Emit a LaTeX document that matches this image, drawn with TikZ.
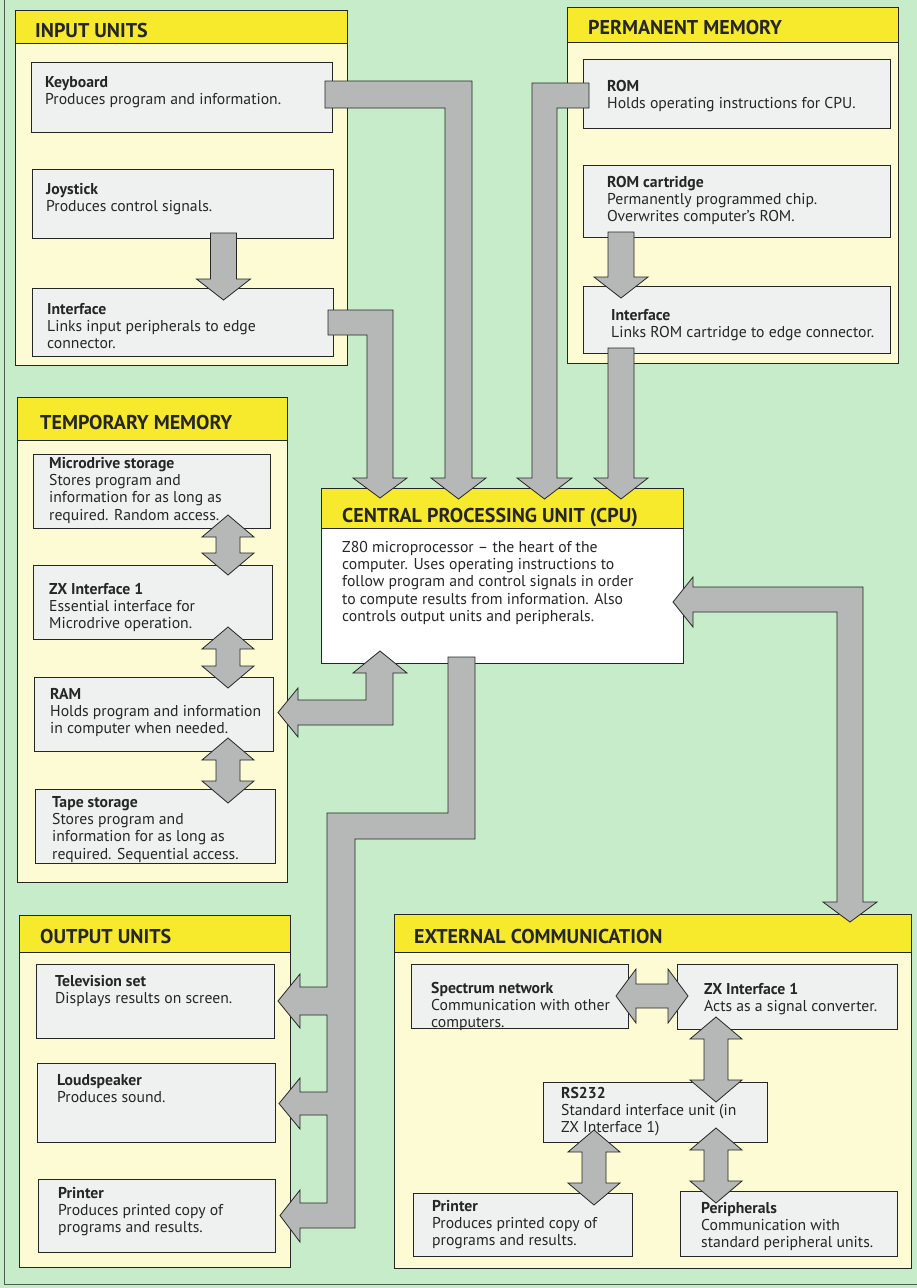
\documentclass[tikz,border=0pt]{standalone}
\usepackage{fontspec}
\setmainfont{PT Sans}
\newfontfamily\headfont{PT Sans}
\definecolor{bg}{HTML}{C6ECCA}
\definecolor{panelc}{HTML}{FDFBD4}
\definecolor{headc}{HTML}{F7E92C}
\definecolor{boxc}{HTML}{EEF1EF}
\definecolor{arr}{HTML}{B6B8B8}
\definecolor{ink}{HTML}{262626}
\definecolor{frame}{HTML}{4F5F50}
\tikzset{
  panelbox/.style={draw=ink, fill=panelc, line width=0.9pt, inner sep=0pt, outer sep=0pt},
  headbox/.style={draw=ink, fill=headc, line width=0.9pt, inner sep=0pt, outer sep=0pt},
  itembox/.style={draw=ink, fill=boxc, line width=0.9pt, inner sep=0pt, outer sep=0pt},
  cpubody/.style={draw=ink, fill=white, line width=0.9pt, inner sep=0pt, outer sep=0pt},
  txt/.style={align=left, inner sep=0pt, text=ink, font=\fontsize{15.7}{17.3}\selectfont},
  ttl/.style={inner sep=0pt, text=ink, font=\headfont\bfseries\fontsize{20}{20}\selectfont},
  blockarrow/.style={fill=arr, draw=ink, line width=0.8pt, line join=miter}
}
\newcommand\boxnode[6]{\node[#1, anchor=north west, minimum width={#5-#3}, minimum height={#6-#4}] (#2) at (#3,#4) {};}
\newcommand\btext[5]{\node[txt, anchor=north west] (#1) at (#2,{#3-12}) {\rule{0pt}{12pt}\textbf{#4}\\#5};}
\newcommand\darrow[3]{\draw[blockarrow] ({#1-13},#2) -- ({#1+13},#2) -- ({#1+13},{#3-21}) -- ({#1+27},{#3-21}) -- (#1,#3) -- ({#1-27},{#3-21}) -- ({#1-13},{#3-21}) -- cycle;}
\newcommand\vdarrow[3]{\draw[blockarrow] (#1,#2) -- ({#1+26},{#2+22}) -- ({#1+12},{#2+22}) -- ({#1+12},{#3-22}) -- ({#1+26},{#3-22}) -- (#1,#3) -- ({#1-26},{#3-22}) -- ({#1-12},{#3-22}) -- ({#1-12},{#2+22}) -- ({#1-26},{#2+22}) -- cycle;}
\newcommand\hdarrow[3]{\draw[blockarrow] (#1,#3) -- ({#1+20},{#3-27}) -- ({#1+20},{#3-12}) -- ({#2-20},{#3-12}) -- ({#2-20},{#3-27}) -- (#2,#3) -- ({#2-20},{#3+27}) -- ({#2-20},{#3+12}) -- ({#1+20},{#3+12}) -- ({#1+20},{#3+27}) -- cycle;}
\begin{document}
\begin{tikzpicture}[x=1pt,y=-1pt]
\useasboundingbox (0,0) rectangle (917,1288);
\fill[bg] (0,0) rectangle (917,1288);
\draw[frame, line width=1pt] (4.5,0) -- (4.5,1284.5) -- (917,1284.5);

% ---------- panels ----------
\boxnode{panelbox}{inp}{15}{10}{347}{365}
\boxnode{headbox}{inph}{15}{10}{347}{43}
\node[ttl, anchor=base west] (inpT) at (35,37) {INPUT UNITS};

\boxnode{panelbox}{perm}{567}{7}{898}{363}
\boxnode{headbox}{permh}{567}{7}{898}{42}
\node[ttl, anchor=base west] (permT) at (588,34) {PERMANENT MEMORY};

\boxnode{panelbox}{temp}{17}{397}{287}{882}
\boxnode{headbox}{temph}{17}{397}{287}{440}
\node[ttl, anchor=base west] (tempT) at (40,429) {TEMPORARY MEMORY};

\boxnode{cpubody}{cpu}{321}{488}{683}{663}
\boxnode{headbox}{cpuh}{321}{488}{683}{528}
\node[ttl, anchor=base west] (cpuT) at (342,522) {CENTRAL PROCESSING UNIT (CPU)};

\boxnode{panelbox}{outp}{19}{915}{290}{1267}
\boxnode{headbox}{outph}{19}{915}{290}{952}
\node[ttl, anchor=base west] (outT) at (40,943) {OUTPUT UNITS};

\boxnode{panelbox}{ext}{394}{914}{911}{1268}
\boxnode{headbox}{exth}{394}{914}{911}{952}
\node[ttl, anchor=base west] (extT) at (414,943) {EXTERNAL COMMUNICATION};

% ---------- item boxes ----------
\boxnode{itembox}{kb}{31}{62}{332}{132}
\boxnode{itembox}{joy}{32}{169}{333}{238}
\boxnode{itembox}{ifin}{32}{288}{333}{356}
\boxnode{itembox}{rom}{583}{59}{890}{128}
\boxnode{itembox}{cart}{583}{165}{890}{237}
\boxnode{itembox}{ifrom}{583}{286}{890}{353}
\boxnode{itembox}{mdr}{33}{454}{270}{528}
\boxnode{itembox}{zxa}{33}{565}{272}{639}
\boxnode{itembox}{ram}{34}{677}{273}{751}
\boxnode{itembox}{tape}{35}{789}{275}{863}
\boxnode{itembox}{tv}{36}{964}{274}{1038}
\boxnode{itembox}{spk}{37}{1063}{275}{1142}
\boxnode{itembox}{prta}{38}{1179}{275}{1252}
\boxnode{itembox}{net}{411}{964}{628}{1028}
\boxnode{itembox}{zxb}{677}{964}{897}{1029}
\boxnode{itembox}{rs}{543}{1082}{767}{1142}
\boxnode{itembox}{prtb}{413}{1193}{632}{1256}
\boxnode{itembox}{per}{680}{1191}{897}{1256}

% ---------- texts ----------
\btext{kbT}{45}{87}{Keyboard}{Produces program and information.}
\btext{joyT}{46}{194}{Joystick}{Produces control signals.}
\btext{ifinT}{47}{314}{Interface}{Links input peripherals to edge\\connector.}
\btext{romT}{607}{91}{ROM}{Holds operating instructions for CPU.}
\btext{cartT}{607}{187}{ROM cartridge}{Permanently programmed chip.\\Overwrites computer’s ROM.}
\btext{ifromT}{611}{320}{Interface}{Links ROM cartridge to edge connector.}
\btext{mdrT}{49}{468}{Microdrive storage}{Stores program and\\information for as long as\\required. Random access.}
\btext{zxaT}{49}{594}{ZX Interface 1}{Essential interface for\\Microdrive operation.}
\btext{ramT}{50}{699}{RAM}{Holds program and information\\in computer when needed.}
\btext{tapeT}{52}{807}{Tape storage}{Stores program and\\information for as long as\\required. Sequential access.}
\btext{tvT}{55}{986}{Television set}{Displays results on screen.}
\btext{spkT}{57}{1085}{Loudspeaker}{Produces sound.}
\btext{prtaT}{58}{1198}{Printer}{Produces printed copy of\\programs and results.}
\btext{netT}{431}{993}{Spectrum network}{Communication with other\\computers.}
\btext{zxbT}{704}{994}{ZX Interface 1}{Acts as a signal converter.}
\btext{rsT}{561}{1098}{RS232}{Standard interface unit (in\\ZX Interface 1)}
\btext{prtbT}{432}{1211}{Printer}{Produces printed copy of\\programs and results.}
\btext{perT}{701}{1213}{Peripherals}{Communication with\\standard peripheral units.}
\node[txt, anchor=north west] (cpuB) at (342,{552-12}) {\rule{0pt}{12pt}Z80 microprocessor \textendash{} the heart of the\\computer. Uses operating instructions to\\follow program and control signals in order\\to compute results from information. Also\\controls output units and peripherals.};

% ---------- block arrows ----------
% keyboard -> CPU
\draw[blockarrow] (325,81) -- (472,81) -- (472,478) -- (486,478) -- (458.5,499) -- (431,478) -- (445,478) -- (445,108) -- (325,108) -- cycle;
% input interface -> CPU
\draw[blockarrow] (328,310) -- (393,310) -- (393,478) -- (407,478) -- (380,498) -- (353,478) -- (367,478) -- (367,335) -- (328,335) -- cycle;
% ROM -> CPU
\draw[blockarrow] (589,83) -- (532,83) -- (532,478) -- (517,478) -- (544.5,499) -- (572,478) -- (557,478) -- (557,108) -- (589,108) -- cycle;
% ROM interface -> CPU
\darrow{621}{348}{499}
% cartridge -> interface
\darrow{621}{232}{298}
% joystick -> interface
\darrow{223.5}{233}{300}
% temporary memory double arrows
\vdarrow{228}{515}{575}
\vdarrow{228}{627}{688}
\vdarrow{228}{738}{803}
% CPU <-> RAM
\draw[blockarrow] (380,651) -- (407,673) -- (393,673) -- (393,725) -- (298,725) -- (298,737) -- (278,712.5) -- (298,688) -- (298,700) -- (366,700) -- (366,673) -- (353,673) -- cycle;
% CPU -> output units
\draw[blockarrow] (448,657) -- (475,657) -- (475,839) -- (355,839) -- (355,1228) -- (300,1228) -- (300,1242) -- (280,1215.5) -- (300,1190) -- (300,1203) -- (327,1203) -- (327,1115) -- (300,1115) -- (300,1129) -- (279,1103.5) -- (300,1078) -- (300,1092) -- (327,1092) -- (327,1015) -- (300,1015) -- (300,1028) -- (278,1001) -- (300,974) -- (300,987) -- (327,987) -- (327,813) -- (448,813) -- cycle;
% CPU <-> external communication
\draw[blockarrow] (673,602) -- (693,577) -- (693,587) -- (863,587) -- (863,902) -- (877,902) -- (850,922) -- (823,902) -- (837,902) -- (837,612) -- (693,612) -- (693,627) -- cycle;
% external communication internal arrows
\hdarrow{616}{688}{996}
\vdarrow{716}{1017}{1102}
\vdarrow{594}{1130}{1205}
\vdarrow{716}{1128}{1203}
\end{tikzpicture}
\end{document}
